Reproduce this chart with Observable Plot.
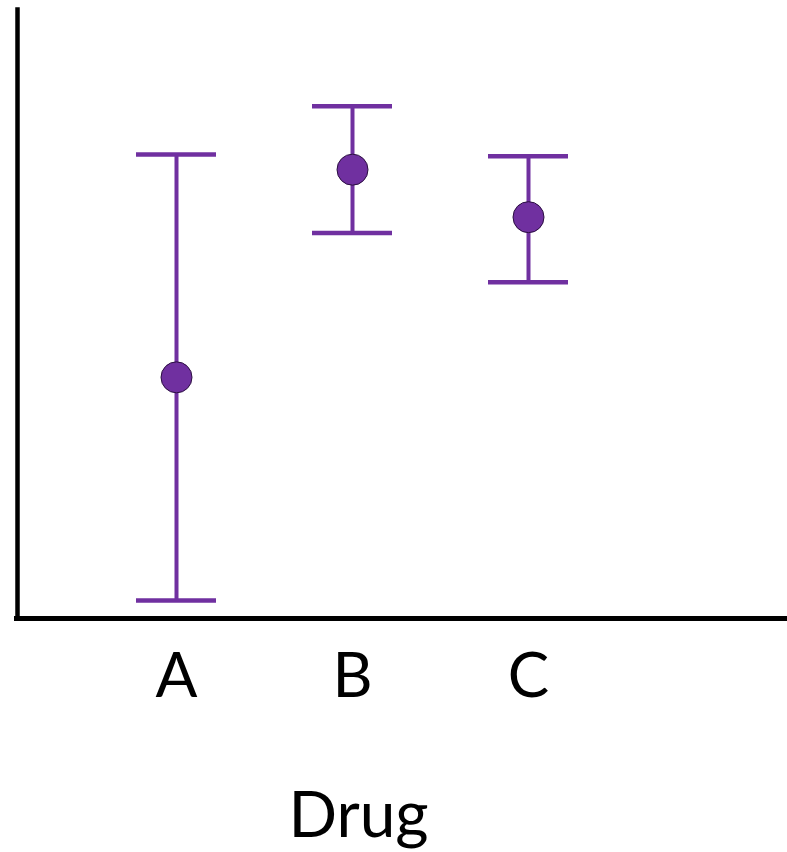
<!DOCTYPE html>
<html>
<head>
<meta charset="utf-8">
<script src="https://cdn.jsdelivr.net/npm/d3@7"></script>
<script src="https://cdn.jsdelivr.net/npm/@observablehq/plot@0.6"></script>
<style>
  html, body { margin: 0; padding: 0; background: #fff; }
</style>
</head>
<body>
<div id="chart"></div>
<script>
const drugs = ["A", "B", "C"];
const means = [39.6, 73.7, 65.9];
const upper = [76.2, 84.1, 75.9];
const lower = [2.96, 63.3, 55.2];
const xLabel = "Drug";

const data = drugs.map((d, i) => ({drug: d, mean: means[i], hi: upper[i], lo: lower[i]}));
const purple = "#7030A0";
const font = "Lato, 'Open Sans', sans-serif";

const chart = Plot.plot({
  width: 787,
  height: 852,
  marginLeft: 17,
  marginRight: 0,
  marginTop: 9,
  marginBottom: 234,
  style: {background: "#fff", overflow: "visible", fontFamily: font},
  x: {type: "band", domain: drugs, range: [136, 568], paddingInner: 0.5455, paddingOuter: 0, align: 0.5, axis: null},
  y: {domain: [0, 100], axis: null},
  marks: [
    Plot.ruleX(data, {x: "drug", y1: "lo", y2: "hi", stroke: purple, strokeWidth: 4}),
    Plot.tickY(data, {x: "drug", y: "hi", stroke: purple, strokeWidth: 4.5}),
    Plot.tickY(data, {x: "drug", y: "lo", stroke: purple, strokeWidth: 4.5}),
    Plot.dot(data, {x: "drug", y: "mean", r: 15.5, fill: purple, stroke: "#2b0f40", strokeWidth: 1}),
    Plot.frame({anchor: "left", stroke: "#000", strokeWidth: 4.5}),
    Plot.ruleY([0], {stroke: "#000", strokeWidth: 5, insetLeft: -3}),
    Plot.text(drugs, {x: d => d, frameAnchor: "bottom", dy: 78, fontSize: 62, fill: "#000", fontFamily: font}),
    Plot.text([xLabel], {x: () => "B", frameAnchor: "bottom", dy: 218, dx: 6, fontSize: 64, fill: "#000", fontFamily: font})
  ]
});
document.getElementById("chart").appendChild(chart);
</script>
</body>
</html>
